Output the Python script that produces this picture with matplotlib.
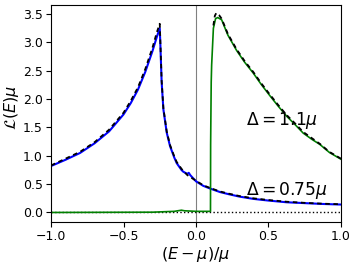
import matplotlib
matplotlib.use('Agg')
import matplotlib.pyplot as plt
import numpy as np

# Delta = 0.75 mu (blue), numerics
e_blue = [-1.0, -0.9, -0.8, -0.7, -0.6, -0.5, -0.45, -0.4, -0.35, -0.3, -0.27, -0.25,
          -0.245, -0.237, -0.225, -0.202, -0.179, -0.15, -0.133, -0.1, -0.088, -0.06,
          -0.05, -0.04, 0.0, 0.05, 0.1, 0.166, 0.23, 0.3, 0.395, 0.5, 0.625, 0.75, 0.875, 1.0]
l_blue = [0.82, 0.93, 1.05, 1.22, 1.43, 1.73, 1.93, 2.17, 2.48, 2.85, 3.10, 3.25,
          2.90, 2.30, 1.82, 1.41, 1.17, 0.97, 0.87, 0.75, 0.72, 0.68,
          0.70, 0.66, 0.55, 0.47, 0.42, 0.36, 0.32, 0.28, 0.24, 0.21, 0.18, 0.165, 0.15, 0.14]

# Delta = 0.75 mu, analytic (dashed)
e_blue_th = [-1.0, -0.9, -0.8, -0.7, -0.6, -0.5, -0.45, -0.4, -0.35, -0.3, -0.27, -0.25,
             -0.245, -0.237, -0.225, -0.202, -0.179, -0.15, -0.133, -0.1, -0.06, 0.0,
             0.05, 0.1, 0.166, 0.23, 0.3, 0.395, 0.5, 0.625, 0.75, 0.875, 1.0]
l_blue_th = [0.83, 0.95, 1.07, 1.24, 1.46, 1.76, 1.97, 2.21, 2.53, 2.91, 3.18, 3.33,
             2.95, 2.33, 1.84, 1.43, 1.19, 0.99, 0.89, 0.77, 0.66, 0.56,
             0.48, 0.43, 0.37, 0.33, 0.29, 0.25, 0.22, 0.19, 0.17, 0.155, 0.145]

# Delta = 1.1 mu (green), numerics
e_green = [-1.0, -0.3, -0.15, -0.1, -0.08, 0.0, 0.1, 0.101, 0.105, 0.108, 0.12, 0.135,
           0.15, 0.177, 0.22, 0.28, 0.336, 0.395, 0.45, 0.51, 0.566, 0.625, 0.68,
           0.74, 0.8, 0.855, 0.92, 1.0]
l_green = [0.0, 0.005, 0.02, 0.04, 0.03, 0.02, 0.02, 1.2, 2.3, 2.6, 3.25, 3.42,
           3.44, 3.40, 3.13, 2.86, 2.65, 2.46, 2.26, 2.06, 1.88, 1.70, 1.56,
           1.40, 1.29, 1.20, 1.06, 0.94]

# Delta = 1.1 mu, analytic (dashed)
e_green_th = [0.12, 0.13, 0.14, 0.16, 0.177, 0.22, 0.28, 0.336, 0.395, 0.45, 0.51, 0.566,
              0.625, 0.68, 0.74, 0.8, 0.855, 0.92, 1.0]
l_green_th = [3.30, 3.47, 3.52, 3.48, 3.42, 3.15, 2.88, 2.67, 2.48, 2.28, 2.08, 1.90,
              1.72, 1.58, 1.42, 1.31, 1.21, 1.07, 0.95]

xticks = [-1.0, -0.5, 0.0, 0.5, 1.0]
yticks = [0.0, 0.5, 1.0, 1.5, 2.0, 2.5, 3.0, 3.5]

fig = plt.figure(figsize=(3.57, 2.66), dpi=100)
ax = fig.add_axes([0.143, 0.165, 0.812, 0.816])

ax.axvline(0, color='gray', lw=0.8)
ax.plot([-1, 1], [0, 0], 'k:', lw=1.0)
ax.plot(e_blue, l_blue, color='b', lw=1.5)
ax.plot(e_green, l_green, color='g', lw=1.2)
ax.plot(e_blue_th, l_blue_th, 'k--', lw=1.3, dashes=(2.5, 2))
ax.plot(e_green_th, l_green_th, 'k--', lw=1.3, dashes=(2.5, 2))

ax.text(0.345, 1.63, r'$\Delta=1.1\mu$', fontsize=12.3, va='center')
ax.text(0.345, 0.39, r'$\Delta=0.75\mu$', fontsize=12.3, va='center')

ax.set_xlim(-1, 1)
ax.set_ylim(-0.17, 3.66)
ax.set_xticks(xticks)
ax.set_yticks(yticks)
ax.tick_params(labelsize=9, pad=2.5)
ax.set_xlabel(r'$(E-\mu)/\mu$', fontsize=11.5, labelpad=1)
ax.set_ylabel(r'$\mathcal{L}(E)\mu$', fontsize=11.5)
ax.yaxis.set_label_coords(-0.105, 0.53)

fig.savefig('out.png', dpi=100)
